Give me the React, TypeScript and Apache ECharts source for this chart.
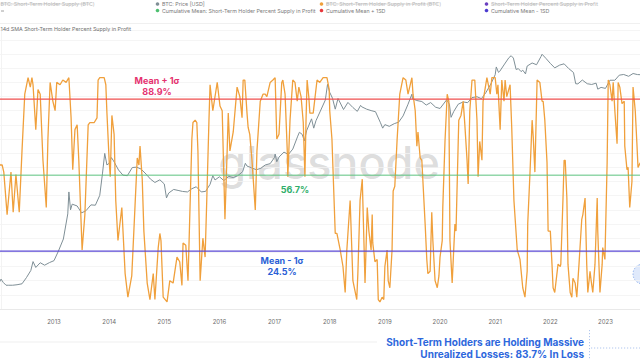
import React, { useEffect, useRef } from 'react';
import * as echarts from 'echarts';

const yearTicks = [2013, 2014, 2015, 2016, 2017, 2018, 2019, 2020, 2021, 2022, 2023];
const xRange = [2012.021, 2023.626];
const meanPct = 56.7;
const plusSdPct = 88.9;
const minusSdPct = 24.5;

// 14d SMA Short-Term Holder Percent Supply in Profit: [decimal year, %]
const sthProfitPct = [
  [2012.00,62],[2012.02,61],[2012.06,61],[2012.09,58],[2012.15,40],[2012.22,58],[2012.26,41],[2012.31,57],[2012.37,41],[2012.42,67],[2012.47,91],[2012.53,98],[2012.57,94],[2012.60,98],[2012.62,95],[2012.67,76],[2012.71,93],[2012.75,91],[2012.80,63],[2012.86,43],[2012.89,72],[2012.93,96],[2012.98,88],
  [2013.02,84],[2013.05,96],[2013.11,95],[2013.16,97],[2013.22,96],[2013.27,98],[2013.31,81],[2013.34,59],[2013.38,76],[2013.42,78],[2013.45,63],[2013.51,25],[2013.56,40],[2013.62,78],[2013.65,79],[2013.73,79],[2013.78,81],[2013.80,97],[2013.83,98],[2013.91,98],[2013.94,95],[2013.96,83],
  [2014.00,63],[2014.02,56],[2014.05,82],[2014.09,74],[2014.12,46],[2014.16,29],[2014.23,43],[2014.29,15],[2014.34,5],[2014.41,14],[2014.47,44],[2014.51,64],[2014.54,61],[2014.56,69],[2014.60,55],[2014.63,33],[2014.69,11],[2014.74,4],[2014.80,15],[2014.83,4],[2014.89,26],[2014.92,32],[2014.94,29],[2014.98,5],
  [2015.05,3],[2015.10,12],[2015.16,11],[2015.23,22],[2015.28,20],[2015.32,10],[2015.34,28],[2015.39,27],[2015.43,12],[2015.47,46],[2015.50,72],[2015.52,79],[2015.56,80],[2015.59,79],[2015.61,67],[2015.65,12],[2015.70,30],[2015.74,22],[2015.77,46],[2015.81,80],[2015.83,95],[2015.88,84],[2015.96,96],
  [2016.01,86],[2016.05,84],[2016.10,38],[2016.14,67],[2016.16,83],[2016.19,67],[2016.25,75],[2016.32,94],[2016.37,90],[2016.41,81],[2016.43,97],[2016.46,97],[2016.50,83],[2016.52,77],[2016.55,74],[2016.59,63],[2016.65,42],[2016.68,67],[2016.74,88],[2016.79,91],[2016.83,91],[2016.86,90],[2016.92,96],[2016.97,97],
  [2017.01,98],[2017.04,72],[2017.08,74],[2017.13,96],[2017.15,97],[2017.19,91],[2017.23,67],[2017.24,56],[2017.28,80],[2017.33,97],[2017.37,96],[2017.41,88],[2017.44,94],[2017.48,90],[2017.52,79],[2017.55,56],[2017.57,80],[2017.59,97],[2017.62,90],[2017.64,83],[2017.70,83],[2017.77,97],[2017.82,96],[2017.88,98],[2017.95,98],[2017.99,93],
  [2018.00,84],[2018.04,72],[2018.10,32],[2018.13,32],[2018.19,25],[2018.24,18],[2018.28,7],[2018.31,25],[2018.33,32],[2018.37,46],[2018.42,12],[2018.49,4],[2018.51,15],[2018.55,46],[2018.59,55],[2018.60,46],[2018.64,11],[2018.68,43],[2018.71,33],[2018.75,25],[2018.77,40],[2018.78,28],[2018.82,20],[2018.86,21],[2018.88,4],[2018.91,3],[2018.95,5],[2018.98,4],
  [2019.00,18],[2019.04,25],[2019.06,12],[2019.09,9],[2019.13,25],[2019.15,50],[2019.18,52],[2019.22,71],[2019.27,91],[2019.33,98],[2019.38,97],[2019.42,91],[2019.49,98],[2019.51,91],[2019.55,84],[2019.58,69],[2019.60,75],[2019.64,64],[2019.67,63],[2019.73,36],[2019.76,21],[2019.78,15],[2019.82,16],[2019.85,41],[2019.87,29],[2019.91,12],[2019.95,9],[2019.98,14],
  [2020.00,22],[2020.04,29],[2020.05,43],[2020.09,71],[2020.13,91],[2020.16,88],[2020.18,29],[2020.22,11],[2020.27,36],[2020.29,33],[2020.33,71],[2020.34,80],[2020.38,82],[2020.42,88],[2020.45,78],[2020.49,63],[2020.51,53],[2020.54,84],[2020.58,97],[2020.63,97],[2020.67,80],[2020.69,56],[2020.72,71],[2020.76,63],[2020.78,88],[2020.85,98],[2020.91,91],[2020.94,98],
  [2021.00,98],[2021.03,91],[2021.05,95],[2021.09,76],[2021.12,97],[2021.16,88],[2021.18,97],[2021.21,90],[2021.27,95],[2021.30,77],[2021.34,46],[2021.40,25],[2021.45,21],[2021.50,9],[2021.54,5],[2021.58,16],[2021.59,36],[2021.63,57],[2021.67,80],[2021.69,73],[2021.72,58],[2021.76,97],[2021.81,96],[2021.85,88],[2021.87,88],[2021.90,80],[2021.94,62],[2021.96,33],
  [2022.00,33],[2022.03,19],[2022.05,9],[2022.08,7],[2022.14,19],[2022.18,18],[2022.19,19],[2022.23,47],[2022.25,63],[2022.27,63],[2022.30,47],[2022.32,19],[2022.36,7],[2022.39,5],[2022.41,13],[2022.45,11],[2022.48,5],[2022.52,19],[2022.57,38],[2022.59,40],[2022.63,47],[2022.66,19],[2022.68,7],[2022.72,16],[2022.74,12],[2022.77,7],[2022.81,19],[2022.85,47],[2022.86,33],[2022.90,7],[2022.94,19],[2022.95,26],[2022.99,21],
  [2023.03,62],[2023.05,97],[2023.08,95],[2023.12,88],[2023.14,96],[2023.17,84],[2023.21,70],[2023.23,96],[2023.26,94],[2023.30,87],[2023.34,88],[2023.35,69],[2023.39,59],[2023.41,60],[2023.44,43],[2023.48,54],[2023.50,94],[2023.54,84],[2023.57,70],[2023.59,60],[2023.63,62],[2023.66,58],
];

// BTC price [USD]: [decimal year, price]
const btcPrice = [
  [2012.0,5.3],[2012.04,6.3],[2012.08,5.5],[2012.13,4.9],[2012.17,4.9],[2012.25,4.9],[2012.33,5.0],[2012.42,5.2],[2012.5,6.7],[2012.58,9.0],[2012.62,13],[2012.67,10.2],[2012.75,12.4],[2012.83,11.2],[2012.92,12.5],
  [2013.0,13.5],[2013.08,20],[2013.17,33],[2013.25,93],[2013.27,230],[2013.3,110],[2013.33,139],[2013.42,129],[2013.5,97],[2013.58,106],[2013.67,135],[2013.75,133],[2013.83,200],[2013.88,500],[2013.92,1130],[2013.96,700],
  [2014.0,750],[2014.04,950],[2014.08,830],[2014.17,570],[2014.25,460],[2014.33,450],[2014.42,630],[2014.5,640],[2014.58,590],[2014.67,480],[2014.75,390],[2014.83,340],[2014.92,380],
  [2015.0,320],[2015.04,180],[2015.08,220],[2015.17,255],[2015.25,245],[2015.33,235],[2015.42,230],[2015.5,263],[2015.58,285],[2015.67,230],[2015.75,236],[2015.83,315],[2015.88,450],[2015.92,377],
  [2016.0,430],[2016.08,368],[2016.17,437],[2016.25,416],[2016.33,448],[2016.42,530],[2016.47,750],[2016.5,670],[2016.58,624],[2016.67,575],[2016.75,610],[2016.83,700],[2016.92,740],
  [2017.0,960],[2017.01,1100],[2017.04,800],[2017.08,970],[2017.17,1190],[2017.25,1080],[2017.33,1350],[2017.42,2300],[2017.45,2700],[2017.5,2480],[2017.54,1900],[2017.58,2870],[2017.67,4700],[2017.71,3200],[2017.75,4340],[2017.83,6470],[2017.92,10200],[2017.96,19500],
  [2018.0,14000],[2018.05,11000],[2018.1,7000],[2018.15,10900],[2018.25,6900],[2018.33,9250],[2018.42,7500],[2018.5,6400],[2018.56,8200],[2018.58,7730],[2018.67,7000],[2018.75,6600],[2018.83,6300],[2018.92,4000],[2018.96,3200],
  [2019.0,3700],[2019.08,3450],[2019.17,3850],[2019.25,4100],[2019.33,5300],[2019.42,8600],[2019.49,13000],[2019.5,10800],[2019.58,10000],[2019.67,9600],[2019.75,8300],[2019.83,9200],[2019.92,7600],
  [2020.0,7200],[2020.12,10300],[2020.17,8600],[2020.2,5000],[2020.25,6400],[2020.33,8600],[2020.42,9450],[2020.5,9150],[2020.58,11300],[2020.67,11700],[2020.75,10800],[2020.83,13800],[2020.92,19700],
  [2021.0,29000],[2021.02,40000],[2021.06,32000],[2021.08,33100],[2021.17,45000],[2021.25,58800],[2021.29,63500],[2021.33,57700],[2021.38,36000],[2021.42,37300],[2021.47,33000],[2021.5,35000],[2021.55,30000],[2021.58,41500],[2021.67,47100],[2021.75,43800],[2021.83,61300],[2021.85,67500],[2021.92,57000],
  [2022.0,46300],[2022.08,38500],[2022.17,43200],[2022.25,45500],[2022.33,37700],[2022.42,31800],[2022.46,20000],[2022.5,19900],[2022.58,23300],[2022.67,20000],[2022.75,19400],[2022.83,20500],[2022.86,16000],[2022.92,17200],
  [2023.0,16500],[2023.08,23100],[2023.17,23100],[2023.25,28500],[2023.33,29300],[2023.42,27200],[2023.5,30500],[2023.58,29200],[2023.65,29000],
];

const legendRow1 = [
  { text: 'BTC: Short-Term Holder Supply (BTC)', color: '', off: true },
  { text: 'BTC: Price [USD]', color: '#7f8f96', off: false },
  { text: 'BTC: Short-Term Holder Supply in Profit (BTC)', color: '#f0a03c', off: true },
  { text: 'Short-Term Holder Percent Supply in Profit', color: '#6a3fc0', off: true },
];
const legendRow2 = [
  { text: '', color: '', off: false },
  { text: 'Cumulative Mean: Short-Term Holder Percent Supply in Profit', color: '#4cbf6f', off: false },
  { text: 'Cumulative Mean + 1SD', color: '#e8363b', off: false },
  { text: 'Cumulative Mean - 1SD', color: '#4a3ad0', off: false },
];
const legendCols = [0.5, 162, 326, 491];
const strikeWidths = [90, 0, 112, 102];
const subTitle = '14d SMA Short-Term Holder Percent Supply in Profit';
const footerLines = ['Short-Term Holders are Holding Massive', 'Unrealized Losses: 83.7% In Loss'];

const FONT = 'Inter, "Noto Sans", sans-serif';

export default function App() {
  const ref = useRef<HTMLDivElement>(null);
  useEffect(() => {
    const chart = echarts.init(ref.current!, null, { renderer: 'svg' });
    const graphics: any[] = [];
    const txt = (x: number, y: number, text: string, o: any = {}) => ({
      type: 'text', x, y, silent: true, z: o.z ?? 10,
      style: {
        text, fill: o.fill ?? '#777', fontSize: o.size ?? 5.3, fontFamily: FONT, fontWeight: o.weight ?? 'normal',
        align: o.align ?? 'left', textAlign: o.align ?? 'left', verticalAlign: 'middle', textVerticalAlign: 'middle',
      },
    });
    // legend
    [legendRow1, legendRow2].forEach((row, r) => {
      const y = r === 0 ? 4 : 10.5;
      row.forEach((it, c) => {
        const x = legendCols[c];
        if (it.color) graphics.push({ type: 'circle', silent: true, shape: { cx: x - 4.5, cy: y, r: 1.8 }, style: { fill: it.color } });
        if (it.text) {
          graphics.push(txt(x, y, it.text, { fill: it.off ? '#b8b8b8' : '#7a7a7a' }));
          if (it.off) graphics.push({ type: 'line', silent: true, shape: { x1: x, y1: y, x2: x + strikeWidths[c], y2: y }, style: { stroke: '#bdbdbd', lineWidth: 0.6 } });
        }
      });
    });
    graphics.push({ type: 'line', silent: true, shape: { x1: 1, y1: 11, x2: 4, y2: 11 }, style: { stroke: '#888', lineWidth: 0.8 } });
    graphics.push({ type: 'line', silent: true, shape: { x1: 0, y1: 23.5, x2: 640, y2: 23.5 }, style: { stroke: '#ececec', lineWidth: 0.8 } });
    graphics.push(txt(0.5, 28.5, subTitle, { fill: '#707070' }));
    // watermark
    graphics.push({ type: 'text', x: 329, y: 162, silent: true, z: 0, style: { text: 'glassnode', fill: 'rgba(150,150,150,0.32)', fontSize: 45, fontFamily: FONT, fontWeight: 500, align: 'center', textAlign: 'center', verticalAlign: 'middle', textVerticalAlign: 'middle' } });
    // annotations
    graphics.push(txt(157, 80, 'Mean + 1σ', { fill: '#e5326f', size: 9, weight: 'bold', align: 'center' }));
    graphics.push(txt(157, 91.5, plusSdPct.toFixed(1) + '%', { fill: '#e5326f', size: 9, weight: 'bold', align: 'center' }));
    graphics.push(txt(295, 189, meanPct.toFixed(1) + '%', { fill: '#2fae6a', size: 9, weight: 'bold', align: 'center' }));
    graphics.push(txt(282, 260, 'Mean - 1σ', { fill: '#2a5fd6', size: 9, weight: 'bold', align: 'center' }));
    graphics.push(txt(282, 271, minusSdPct.toFixed(1) + '%', { fill: '#2a5fd6', size: 9, weight: 'bold', align: 'center' }));
    // footer
    graphics.push({ type: 'line', silent: true, shape: { x1: 0, y1: 342, x2: 377, y2: 342 }, style: { stroke: '#ebebeb', lineWidth: 0.8 } });
    graphics.push(txt(584, 341.5, footerLines[0], { fill: '#2d67dc', size: 10, weight: 'bold', align: 'right' }));
    graphics.push(txt(584, 354, footerLines[1], { fill: '#2d67dc', size: 10, weight: 'bold', align: 'right' }));
    graphics.push({ type: 'line', silent: true, shape: { x1: 589.5, y1: 330, x2: 589.5, y2: 360 }, style: { stroke: '#9cb8ea', lineWidth: 0.8, lineDash: [1.2, 1.8] } });
    graphics.push({ type: 'line', silent: true, shape: { x1: 591, y1: 348, x2: 640, y2: 348 }, style: { stroke: '#9cb8ea', lineWidth: 0.8, lineDash: [1.2, 1.8] } });
    graphics.push({ type: 'circle', silent: true, shape: { cx: 643, cy: 274, r: 10 }, style: { fill: '#dfe9fb', stroke: '#7ea3e8', lineWidth: 0.8, lineDash: [1.5, 1.5] } });
    graphics.push({ type: 'line', silent: true, shape: { x1: 1.5, y1: 30, x2: 1.5, y2: 309 }, style: { stroke: '#f0f0f0', lineWidth: 0.8 } });

    const flat = (v: number) => [[xRange[0] - 1, v], [xRange[1] + 1, v]];
    const option: any = {
      animation: false,
      backgroundColor: '#ffffff',
      grid: { left: 0, right: 0, top: 30, bottom: 51, containLabel: false },
      xAxis: {
        type: 'value', min: xRange[0], max: xRange[1],
        axisLine: { show: true, lineStyle: { color: '#e6e6e6', width: 0.8 } },
        axisTick: { show: false }, splitLine: { show: false },
        axisLabel: { customValues: yearTicks, formatter: (v: number) => String(Math.round(v)), color: '#6e6e6e', fontSize: 6, fontFamily: FONT, margin: 9 },
      },
      yAxis: [
        { type: 'value', min: 0, max: 118.2, interval: 6, axisLine: { show: false }, axisTick: { show: false }, axisLabel: { show: false }, splitLine: { show: true, lineStyle: { color: '#f3f3f3', width: 0.8 } } },
        { type: 'log', logBase: 10, min: 1.837, max: 183700, show: false, splitLine: { show: false } },
      ],
      series: [
        { name: 'BTC: Price [USD]', type: 'line', yAxisIndex: 1, data: btcPrice, showSymbol: false, symbol: 'none', silent: true, z: 1, lineStyle: { color: '#7f8f96', width: 1 } },
        { name: '14d SMA', type: 'line', yAxisIndex: 0, data: sthProfitPct, showSymbol: false, symbol: 'none', silent: true, z: 2, lineStyle: { color: '#f0a03c', width: 1.3 } },
        { name: 'Mean', type: 'line', data: flat(meanPct), showSymbol: false, symbol: 'none', silent: true, z: 3, lineStyle: { color: '#5cc27f', width: 1 } },
        { name: 'Mean + 1SD', type: 'line', data: flat(plusSdPct), showSymbol: false, symbol: 'none', silent: true, z: 3, lineStyle: { color: '#ef4f4f', width: 1.4 } },
        { name: 'Mean - 1SD', type: 'line', data: flat(minusSdPct), showSymbol: false, symbol: 'none', silent: true, z: 3, lineStyle: { color: '#5a48d4', width: 1.2 } },
      ],
      graphic: { elements: graphics },
    };
    chart.setOption(option);
    return () => chart.dispose();
  }, []);
  return <div ref={ref} style={{ position: 'fixed', left: 0, top: 0, width: 640, height: 360 }} />;
}
